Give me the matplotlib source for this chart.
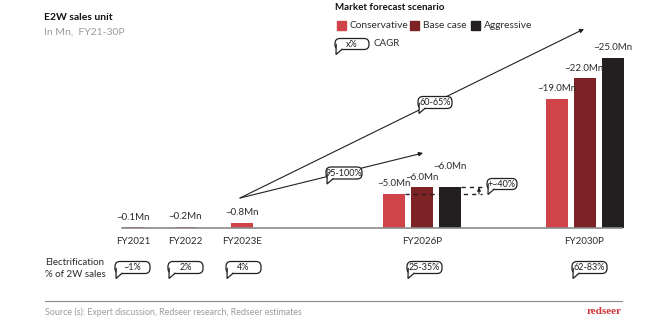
import matplotlib
matplotlib.use('Agg')
import matplotlib.pyplot as plt
from matplotlib.patches import FancyBboxPatch, Polygon, Rectangle

plt.rcParams['font.family'] = ['Lato', 'DejaVu Sans']

# E2W sales, Mn units
years = ['FY2021', 'FY2022', 'FY2023E', 'FY2026P', 'FY2030P']
actuals = [0.1, 0.2, 0.8]
conservative = [5.0, 19.0]
base_case = [6.0, 22.0]
aggressive = [6.0, 25.0]
electrification = ['~1%', '2%', '4%', '25-35%', '62-83%']
cagr = ['95-100%', '60-65%']
spread = '+~40%'

RED = '#cf4349'
MAROON = '#7d2326'
BLACK = '#231f20'
GREY = '#9b9b9b'
TXT = '#2b2b2b'

W, H = 647, 328
fig = plt.figure(figsize=(W / 100, H / 100), dpi=100)

# bar axes: x in pixels, y in Mn (6.8 px per Mn, baseline at y=228 px)
scale = 6.8
ax = fig.add_axes([0, 0, 1, 1])
ax.set_xlim(0, W)
ax.set_ylim(-(H - 228) / scale, 228 / scale)
ax.axis('off')

# overlay axes in pixel coords (y down) for layout items
ov = fig.add_axes([0, 0, 1, 1], zorder=3)
ov.set_xlim(0, W)
ov.set_ylim(H, 0)
ov.axis('off')
ov.patch.set_alpha(0)

bw = 22
hist_x = [133.5, 185.5, 242]
grp_x = [422, 584.5]
step = 28


def value_label(x, v, lift=0):
    ax.annotate('~%.1fMn' % v, (x, v), xytext=(0, 4 + lift), textcoords='offset points',
                ha='center', va='bottom', fontsize=7, color=TXT, zorder=5)


ax.bar(hist_x, actuals, width=bw, color=RED, zorder=2)
for x, v in zip(hist_x, actuals):
    value_label(x, v)

for i, (vals, col) in enumerate([(conservative, RED), (base_case, MAROON), (aggressive, BLACK)]):
    xs = [g + (i - 1) * step for g in grp_x]
    ax.bar(xs, vals, width=bw, color=col, zorder=2)
    for j, (x, v) in enumerate(zip(xs, vals)):
        # stagger the aggressive label when it sits level with the base case one
        lift = 7.5 if (i == 2 and v == base_case[j]) else 0
        value_label(x, v, lift)

ax.plot([122, 622], [0, 0], color='#8a8a8a', lw=1.2, zorder=3)

# spread between conservative and aggressive in FY2026P
c26, a26 = conservative[0], aggressive[0]
ax.plot([grp_x[0] - step + bw / 2, 482], [c26, c26], ls=(0, (3, 3)), color=BLACK, lw=1, zorder=4)
ax.plot([grp_x[0] + step + bw / 2, 482], [a26, a26], ls=(0, (3, 3)), color=BLACK, lw=1, zorder=4)
ax.annotate('', xy=(479, a26), xytext=(479, c26),
            arrowprops=dict(arrowstyle='-|>', lw=0.8, color=BLACK, mutation_scale=5,
                            shrinkA=0, shrinkB=0), zorder=4)


def bubble(cx, cy, text, w, h=12, fs=6.5):
    x0, y0 = cx - w / 2, cy - h / 2
    ov.add_patch(FancyBboxPatch((x0, y0), w, h, boxstyle='round,pad=0,rounding_size=5',
                                fc='white', ec=BLACK, lw=0.9, zorder=6))
    ov.add_patch(Polygon([(x0 + 1.2, y0 + h - 5), (x0 + 1, y0 + h + 5), (x0 + 7, y0 + h - 0.4)],
                         closed=True, fc='white', ec='none', zorder=7))
    ov.plot([x0 + 1.2, x0 + 1, x0 + 7], [y0 + h - 5, y0 + h + 5, y0 + h - 0.2],
            color=BLACK, lw=0.9, zorder=8, solid_joinstyle='miter')
    ov.text(cx, cy + 0.3, text, ha='center', va='center', fontsize=fs, color=BLACK, zorder=9)


# CAGR arrows
start = (240, 198)
for tip in [(423, 153), (584, 29)]:
    ov.annotate('', xy=tip, xytext=start,
                arrowprops=dict(arrowstyle='-|>', lw=0.8, color=BLACK, mutation_scale=6,
                                shrinkA=0, shrinkB=0), zorder=5)
bubble(344, 173, cagr[0], 36)
bubble(435, 102.5, cagr[1], 34)
bubble(502, 184, spread, 30, h=11)

# category labels
for x, lab, y in zip(hist_x + grp_x, years, [242, 242, 242, 242, 241]):
    ov.text(x, y, lab, ha='center', va='center', fontsize=7, color=TXT)

# electrification share
ov.text(45, 262.5, 'Electrification', fontsize=7, color=TXT, va='center')
ov.text(45, 274.5, '% of 2W sales', fontsize=7, color=TXT, va='center')
for x, lab in zip([132.5, 185.5, 243.5, 424.5, 589.5], electrification):
    bubble(x, 267.5, lab, 35, h=12)

# titles
ov.text(44, 18, 'E2W sales unit', fontsize=7.5, fontweight='bold', color='#111111', va='center')
ov.text(44, 32, 'In Mn,  FY21-30P', fontsize=7.5, color=GREY, va='center')

# legend
ov.text(335, 8, 'Market forecast scenario', fontsize=7, fontweight='bold', color='#111111', va='center')
for x, col, lab in [(337, RED, 'Conservative'), (410, MAROON, 'Base case'), (471, BLACK, 'Aggressive')]:
    ov.add_patch(Rectangle((x, 20.5), 9, 9, color=col))
    ov.text(x + 13, 25, lab, fontsize=7.3, color=TXT, va='center')
bubble(352, 44, 'x%', 34, h=11)
ov.text(373, 44, 'CAGR', fontsize=7, color=TXT, va='center')

# footer
ov.plot([45, 622], [301, 301], color='#8a8a8a', lw=0.8)
ov.text(45, 312, 'Source (s): Expert discussion, Redseer research, Redseer estimates',
        fontsize=6.4, color=GREY, va='center')
ov.text(622, 311, 'redseer', fontsize=8, fontweight='bold', color='#d0343a', ha='right',
        va='center', family='Liberation Serif')

fig.savefig('out.png', dpi=100)
